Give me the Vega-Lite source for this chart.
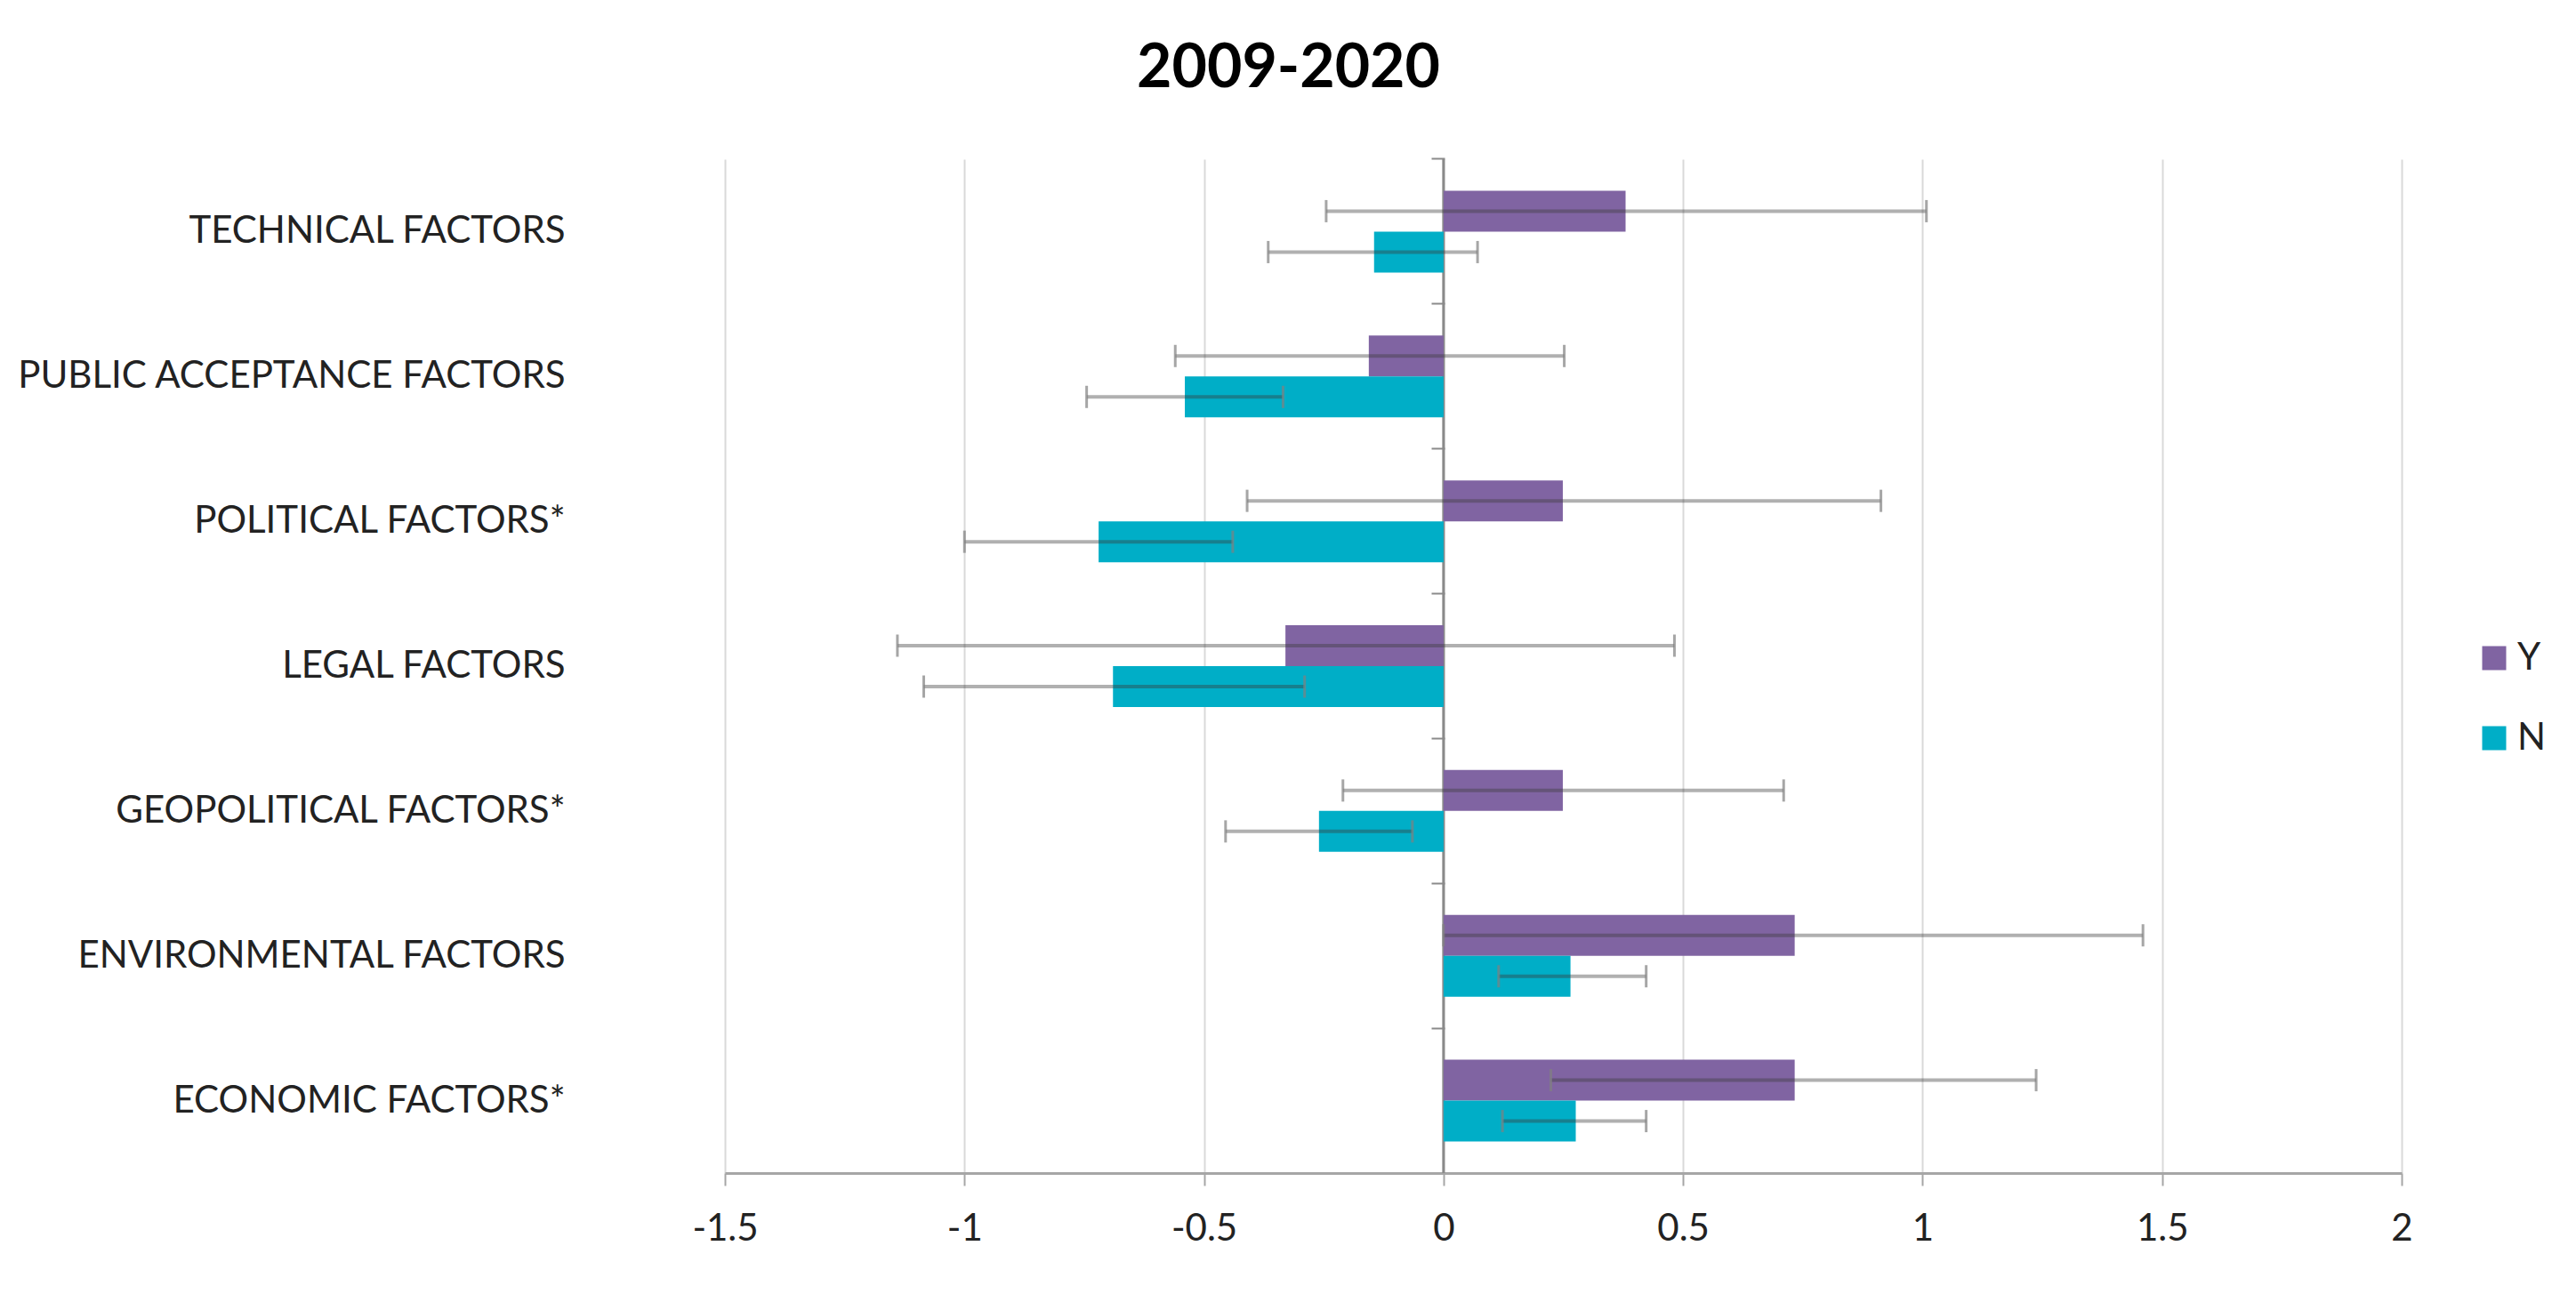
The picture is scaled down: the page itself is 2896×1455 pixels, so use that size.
{
  "$schema": "https://vega.github.io/schema/vega-lite/v6.json",
  "autosize": {"type": "none"},
  "width": 1885,
  "height": 1140,
  "padding": {"left": 815, "top": 179, "right": 196, "bottom": 136},
  "background": "white",
  "title": {
    "text": "2009-2020",
    "font": "Lato",
    "fontSize": 68,
    "fontWeight": "bold",
    "color": "#000000",
    "anchor": "middle",
    "baseline": "alphabetic",
    "offset": 11,
    "dx": -309
  },
  "config": {
    "view": {"stroke": null},
    "font": "Lato"
  },
  "data": {
    "values": [
      {"factor": "TECHNICAL FACTORS", "group": "Y", "value": 0.38, "lo": -0.245, "hi": 1.008},
      {"factor": "TECHNICAL FACTORS", "group": "N", "value": -0.145, "lo": -0.366, "hi": 0.071},
      {"factor": "PUBLIC ACCEPTANCE FACTORS", "group": "Y", "value": -0.156, "lo": -0.56, "hi": 0.252},
      {"factor": "PUBLIC ACCEPTANCE FACTORS", "group": "N", "value": -0.54, "lo": -0.745, "hi": -0.335},
      {"factor": "POLITICAL FACTORS*", "group": "Y", "value": 0.249, "lo": -0.41, "hi": 0.913},
      {"factor": "POLITICAL FACTORS*", "group": "N", "value": -0.72, "lo": -1.0, "hi": -0.44},
      {"factor": "LEGAL FACTORS", "group": "Y", "value": -0.33, "lo": -1.14, "hi": 0.482},
      {"factor": "LEGAL FACTORS", "group": "N", "value": -0.69, "lo": -1.085, "hi": -0.29},
      {"factor": "GEOPOLITICAL FACTORS*", "group": "Y", "value": 0.249, "lo": -0.21, "hi": 0.71},
      {"factor": "GEOPOLITICAL FACTORS*", "group": "N", "value": -0.26, "lo": -0.455, "hi": -0.065},
      {"factor": "ENVIRONMENTAL FACTORS", "group": "Y", "value": 0.733, "lo": 0.0, "hi": 1.46},
      {"factor": "ENVIRONMENTAL FACTORS", "group": "N", "value": 0.265, "lo": 0.115, "hi": 0.423},
      {"factor": "ECONOMIC FACTORS*", "group": "Y", "value": 0.733, "lo": 0.224, "hi": 1.237},
      {"factor": "ECONOMIC FACTORS*", "group": "N", "value": 0.276, "lo": 0.123, "hi": 0.423}
    ]
  },
  "resolve": {"axis": {"y": "independent"}},
  "layer": [
    {
      "mark": {"type": "rule", "color": "#8a8a8a", "strokeWidth": 3},
      "data": {"values": [{"zero": 0}]},
      "encoding": {
        "x": {"field": "zero", "type": "quantitative", "scale": {"domain": [-1.5, 2]}}
      }
    },
    {
      "mark": {"type": "bar"},
      "encoding": {
        "y": {
          "field": "factor", "type": "nominal", "sort": null,
          "scale": {"paddingInner": 0.435, "paddingOuter": 0.2175},
          "axis": {
            "orient": "left", "title": null, "domain": false, "ticks": false, "grid": false,
            "labelPadding": 180, "labelFont": "Lato", "labelFontSize": 42, "labelColor": "#222222",
            "labelLimit": 1000
          }
        },
        "yOffset": {"field": "group", "type": "nominal", "sort": ["Y", "N"], "scale": {"paddingInner": 0, "paddingOuter": 0}},
        "x": {
          "field": "value", "type": "quantitative",
          "scale": {"domain": [-1.5, 2], "nice": false, "zero": false},
          "axis": {
            "title": null, "values": [-1.5, -1, -0.5, 0, 0.5, 1, 1.5, 2],
            "labelExpr": "datum.value == 0 ? '0' : (datum.value < 0 ? '-' : '') + toString(abs(datum.value))",
            "grid": true, "gridColor": "#d9d9d9", "gridWidth": 2,
            "domainColor": "#a6a6a6", "domainWidth": 3,
            "tickColor": "#a6a6a6", "tickWidth": 2, "tickSize": 14,
            "labelFont": "Lato", "labelFontSize": 42, "labelColor": "#222222", "labelPadding": 28,
            "labelFlush": false
          }
        },
        "x2": {"datum": 0},
        "color": {
          "field": "group", "type": "nominal",
          "scale": {"domain": ["Y", "N"], "range": ["#8064A2", "#00AEC7"]},
          "legend": {
            "title": null, "orient": "none", "legendX": 1968, "legendY": 540,
            "symbolType": "square", "symbolSize": 729, "symbolStrokeWidth": 0,
            "labelFont": "Lato", "labelFontSize": 42, "labelColor": "#222222",
            "rowPadding": 48, "labelOffset": 5
          }
        }
      }
    },
    {
      "mark": {"type": "rule", "color": "#3a3a3a", "opacity": 0.4, "strokeWidth": 4},
      "encoding": {
        "y": {
          "field": "factor", "type": "nominal", "sort": null,
          "axis": {
            "orient": "left", "offset": -809, "title": null, "labels": false, "grid": false,
            "domain": false, "ticks": true, "tickColor": "#8a8a8a", "tickWidth": 2, "tickSize": 15,
            "bandPosition": -0.385
          }
        },
        "yOffset": {"field": "group", "type": "nominal", "sort": ["Y", "N"]},
        "x": {"field": "lo", "type": "quantitative"},
        "x2": {"field": "hi"}
      }
    },
    {
      "mark": {"type": "tick", "color": "#808080", "thickness": 3, "size": 25, "orient": "vertical"},
      "encoding": {
        "y": {"field": "factor", "type": "nominal", "sort": null, "axis": null},
        "yOffset": {"field": "group", "type": "nominal", "sort": ["Y", "N"]},
        "x": {"field": "lo", "type": "quantitative"}
      }
    },
    {
      "mark": {"type": "tick", "color": "#808080", "thickness": 3, "size": 25, "orient": "vertical"},
      "encoding": {
        "y": {"field": "factor", "type": "nominal", "sort": null, "axis": null},
        "yOffset": {"field": "group", "type": "nominal", "sort": ["Y", "N"]},
        "x": {"field": "hi", "type": "quantitative"}
      }
    }
  ]
}
